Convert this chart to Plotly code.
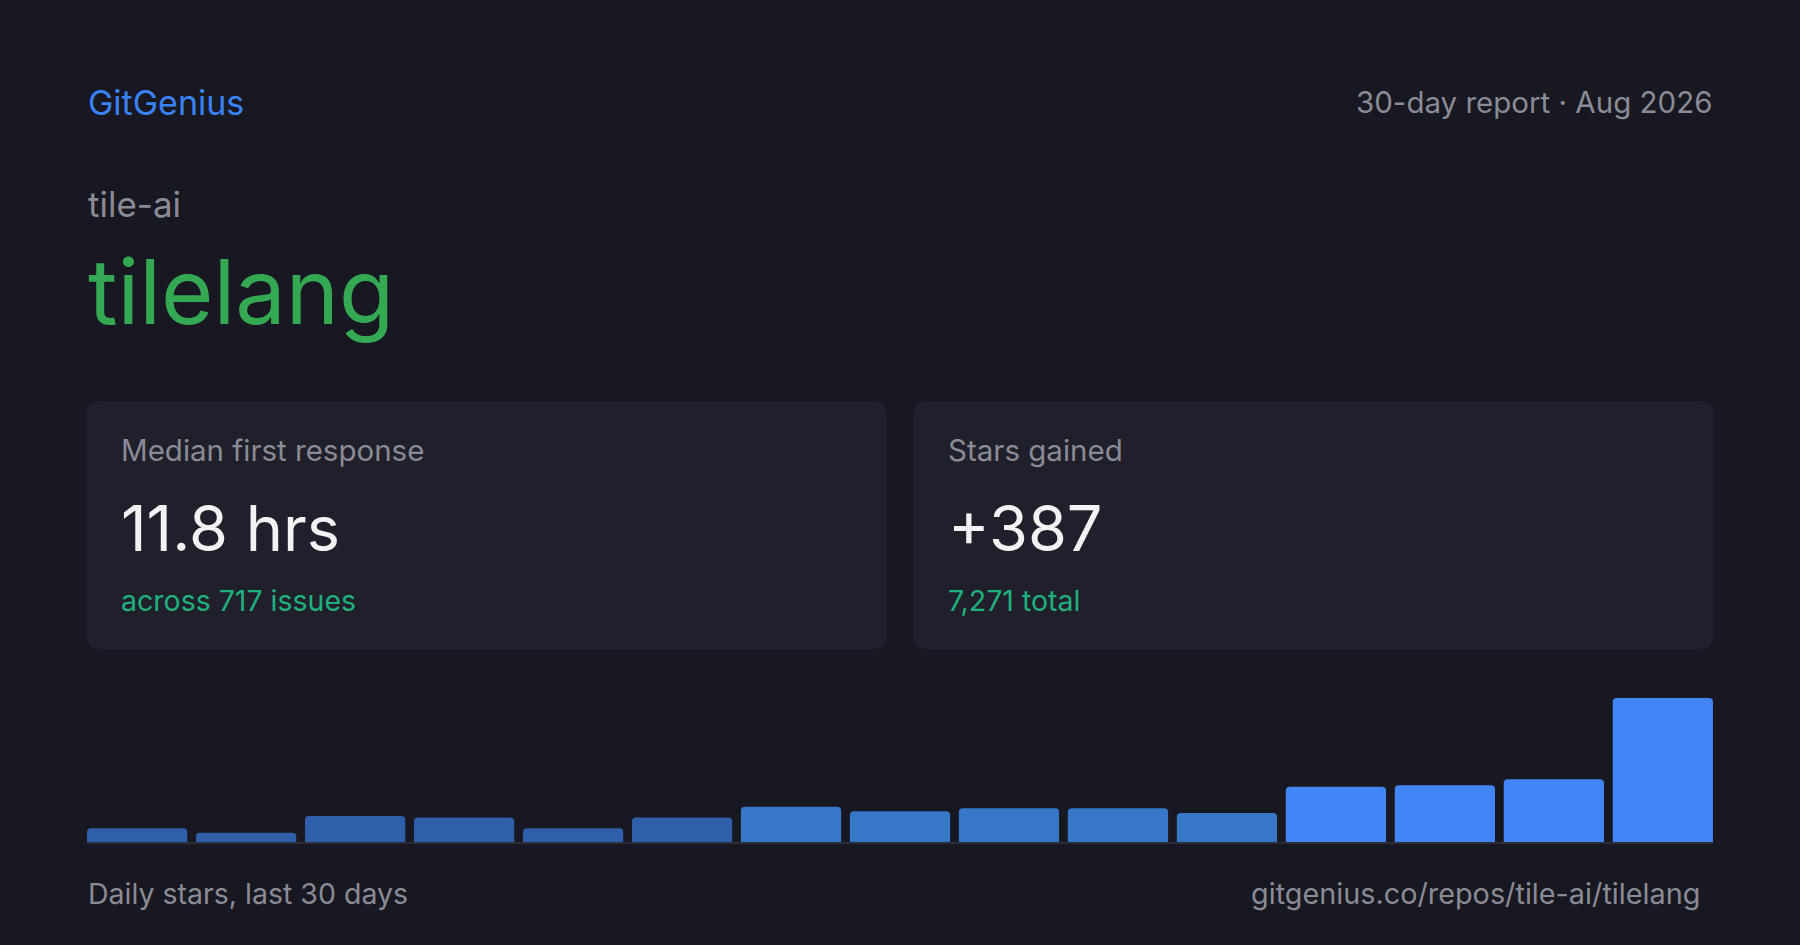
import plotly.graph_objects as go

# data
days = [f"d{i}" for i in range(1, 16)]
stars = [9, 6, 17, 16, 9, 16, 23, 20, 22, 22, 19, 36, 37, 41, 94]
bar_colors = ["#2f5faa"] * 6 + ["#3777c8"] * 5 + ["#4285f4"] * 4

brand = "GitGenius"
report_label = "30-day report · Aug 2026"
owner = "tile-ai"
repo = "tilelang"
card_titles = ["Median first response", "Stars gained"]
card_values = ["11.8 hrs", "+387"]
card_notes = ["across 717 issues", "7,271 total"]
footer_left = "Daily stars, last 30 days"
footer_right = "gitgenius.co/repos/tile-ai/tilelang"

W, H = 1800, 945
BG = "#171821"
CARD = "#1f202b"
GRAY = "#8a8b96"
FONT = "Inter"
GAP = 0.08


def px(x):
    return x / W


def py(y):
    return 1 - y / H


def rounded_rect(x0, y0, x1, y1, r):
    # path in paper coords, y0 is top edge in pixels
    rx, ry = r / W, r / H
    a, b, c, d = px(x0), py(y1), px(x1), py(y0)
    return (f"M{a+rx},{b} L{c-rx},{b} Q{c},{b} {c},{b+ry} L{c},{d-ry} "
            f"Q{c},{d} {c-rx},{d} L{a+rx},{d} Q{a},{d} {a},{d-ry} "
            f"L{a},{b+ry} Q{a},{b} {a+rx},{b} Z")


fig = go.Figure()

fig.add_trace(go.Bar(
    x=days, y=stars,
    marker=dict(color=bar_colors, cornerradius=4, line=dict(width=0)),
    hoverinfo="skip",
))

shapes = []
for x0, x1 in [(87, 886), (914, 1713)]:
    shapes.append(dict(type="path", path=rounded_rect(x0, 401, x1, 649, 12),
                       xref="paper", yref="paper", fillcolor=CARD,
                       line=dict(width=0), layer="below"))
# baseline under the bars
shapes.append(dict(type="line", xref="x", yref="paper",
                   x0=-0.5 + GAP / 2, x1=len(days) - 0.5 - GAP / 2,
                   y0=py(843), y1=py(843),
                   line=dict(color="#2b2d38", width=2)))


def txt(text, x, y, size, color, anchor="left"):
    return dict(text=text, x=px(x), y=py(y), xref="paper", yref="paper",
                xanchor=anchor, yanchor="middle", showarrow=False,
                font=dict(family=FONT, size=size, color=color))


annotations = [
    txt(brand, 86, 102, 34, "#3b82f6"),
    txt(report_label, 1714, 102, 29.5, GRAY, "right"),
    txt(owner, 86, 204, 35, GRAY),
    txt(repo, 86, 292, 90, "#34a853"),
    txt(footer_left, 86, 893, 28.5, GRAY),
    txt(footer_right, 1702, 893, 28.8, GRAY, "right"),
]
for i, x0 in enumerate([119, 946]):
    annotations.append(txt(card_titles[i], x0, 450, 29.5, GRAY))
    annotations.append(txt(card_values[i], x0, 528, 63, "#f3f3f5"))
    annotations.append(txt(card_notes[i], x0, 600, 28.5, "#20b07e"))

half_gap = 108.4 * GAP / 2
fig.update_layout(
    width=W, height=H,
    margin=dict(l=0, r=0, t=0, b=0),
    paper_bgcolor=BG, plot_bgcolor=BG,
    showlegend=False,
    bargap=GAP,
    xaxis=dict(domain=[px(87 - half_gap), px(1713 + half_gap)], range=[-0.5, 14.5],
               visible=False, fixedrange=True),
    yaxis=dict(domain=[py(842), py(698)], range=[0, max(stars)], visible=False,
               fixedrange=True),
    shapes=shapes,
    annotations=annotations,
)

fig.write_html("out.html", config={"displayModeBar": False},
               post_script="document.body.style.margin='0';"
                           "document.body.style.background='#171821';")
